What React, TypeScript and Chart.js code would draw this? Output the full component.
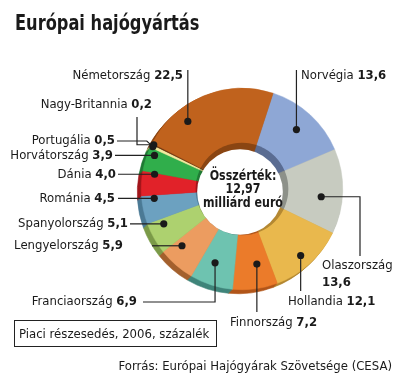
import React, { useEffect, useRef } from "react";
import { Chart, registerables } from "chart.js";
Chart.register(...registerables);

// ---- data ----
const categories = [
  "Norvégia", "Olaszország", "Hollandia", "Finnország", "Franciaország",
  "Lengyelország", "Spanyolország", "Románia", "Dánia", "Horvátország",
  "Portugália", "Nagy-Britannia", "Németország",
];
const shares = [13.6, 13.6, 12.1, 7.2, 6.9, 5.9, 5.1, 4.5, 4.0, 3.9, 0.5, 0.2, 22.5];
const valueLabels = ["13,6", "13,6", "12,1", "7,2", "6,9", "5,9", "5,1", "4,5", "4,0", "3,9", "0,5", "0,2", "22,5"];
const centerLines = ["Összérték:", "12,97", "milliárd euró"];
const titleText = "Európai hajógyártás";
const noteText = "Piaci részesedés, 2006, százalék";
const sourceText = "Forrás: Európai Hajógyárak Szövetsége (CESA)";

// ---- styles ----
const sliceColors = [
  "#8ea7d5", "#c7cbc0", "#e9b84d", "#eb7b2a", "#6ec3b0",
  "#ec9c60", "#add16f", "#6ca1c0", "#e12229", "#30ae4b",
  "#f2eba0", "#6b3210", "#c0621d",
];
const sideColors = [
  "#5a6c92", "#8d9189", "#b48832", "#b1561a", "#3f857a",
  "#a3602d", "#7b9a48", "#4b7a95", "#a1151b", "#1f7a34",
  "#b7ae6e", "#3a1a06", "#8a4512",
];
const FONT = "'DejaVu Sans Condensed', 'Liberation Sans Narrow', 'Arial Narrow', sans-serif";
const LABEL_PX = 13;

type Pt = [number, number];
type LabelSpec = {
  frac: number;
  rf: number;
  path: (d: { x: number; y: number }) => Pt[];
  text: (d: { x: number; y: number }) => { x: number; y: number; align: "left" | "right"; twoLine?: boolean };
};

const labelLayout: LabelSpec[] = [
  { frac: 0.5, rf: 0.8, path: (d) => [[d.x, d.y], [d.x, 70]], text: () => ({ x: 301, y: 76, align: "left" }) },
  { frac: 0.585, rf: 0.79, path: (d) => [[d.x, d.y], [360, d.y], [360, 256]], text: () => ({ x: 322, y: 266, align: "left", twoLine: true }) },
  { frac: 0.52, rf: 0.88, path: (d) => [[d.x, d.y], [d.x, 291]], text: () => ({ x: 288, y: 302, align: "left" }) },
  { frac: 0.36, rf: 0.76, path: (d) => [[d.x, d.y], [d.x, 312]], text: () => ({ x: 230, y: 323, align: "left" }) },
  { frac: 0.59, rf: 0.78, path: (d) => [[d.x, d.y], [d.x, 302], [143, 302]], text: () => ({ x: 137, y: 302, align: "right" }) },
  { frac: 0.77, rf: 0.82, path: (d) => [[152, d.y], [d.x, d.y]], text: (d) => ({ x: 123, y: d.y, align: "right" }) },
  { frac: 0.79, rf: 0.85, path: (d) => [[130, d.y], [d.x, d.y]], text: (d) => ({ x: 128, y: d.y, align: "right" }) },
  { frac: 0.87, rf: 0.876, path: (d) => [[118, d.y], [d.x, d.y]], text: (d) => ({ x: 115, y: d.y, align: "right" }) },
  { frac: 0.94, rf: 0.88, path: (d) => [[118, d.y], [d.x, d.y]], text: (d) => ({ x: 116, y: d.y, align: "right" }) },
  { frac: 0.75, rf: 0.93, path: (d) => [[115, d.y], [d.x, d.y]], text: (d) => ({ x: 113, y: d.y, align: "right" }) },
  { frac: 0.5, rf: 0.98, path: (d) => [[117, 141], [d.x - 6, 141], [d.x, d.y]], text: () => ({ x: 115, y: 141, align: "right" }) },
  { frac: 0.5, rf: 0.98, path: (d) => [[137, 117], [137, d.y], [d.x, d.y]], text: () => ({ x: 152, y: 105, align: "right" }) },
  { frac: 0.3, rf: 0.86, path: (d) => [[d.x, d.y], [d.x, 70]], text: () => ({ x: 183, y: 76, align: "right" }) },
];

function arcProps(el: any) {
  return el.getProps(["x", "y", "startAngle", "endAngle", "innerRadius", "outerRadius"], true);
}

const extrusionPlugin = {
  id: "extrusion",
  beforeDatasetsDraw(chart: any) {
    const meta = chart.getDatasetMeta(0);
    const ctx = chart.ctx;
    ctx.save();
    for (let s = 4; s >= 1; s--) {
      meta.data.forEach((el: any, i: number) => {
        const p = arcProps(el);
        ctx.beginPath();
        ctx.arc(p.x - s, p.y + s, p.outerRadius, p.startAngle, p.endAngle);
        ctx.arc(p.x - s, p.y + s, p.innerRadius, p.endAngle, p.startAngle, true);
        ctx.closePath();
        ctx.fillStyle = sideColors[i];
        ctx.strokeStyle = sideColors[i];
        ctx.lineWidth = 0.6;
        ctx.fill();
        ctx.stroke();
      });
    }
    ctx.restore();
  },
  afterDatasetsDraw(chart: any) {
    const meta = chart.getDatasetMeta(0);
    const ctx = chart.ctx;
    const p0 = arcProps(meta.data[0]);
    const cx = p0.x, cy = p0.y, rin = p0.innerRadius, R = p0.outerRadius;
    ctx.save();
    // inner wall
    ctx.beginPath();
    ctx.arc(cx, cy, rin + 0.5, 0, Math.PI * 2);
    ctx.clip();
    meta.data.forEach((el: any, i: number) => {
      const p = arcProps(el);
      ctx.beginPath();
      ctx.moveTo(cx, cy);
      ctx.arc(cx, cy, rin + 2, p.startAngle, p.endAngle);
      ctx.closePath();
      ctx.fillStyle = sideColors[i];
      ctx.strokeStyle = sideColors[i];
      ctx.lineWidth = 0.6;
      ctx.fill();
      ctx.stroke();
    });
    ctx.restore();
    ctx.save();
    ctx.beginPath();
    ctx.arc(cx - 2, cy + 3, rin - 3, 0, Math.PI * 2);
    ctx.fillStyle = "#ffffff";
    ctx.fill();
    // center text (condensed)
    ctx.fillStyle = "#1a1a1a";
    ctx.font = `bold 14px ${FONT}`;
    ctx.textAlign = "center";
    ctx.textBaseline = "middle";
    ctx.translate(cx + 1, cy);
    ctx.scale(0.88, 1);
    centerLines.forEach((t, k) => ctx.fillText(t, 0, -13 + k * 13.5));
    ctx.restore();

    // labels, leader lines, dots
    ctx.save();
    ctx.strokeStyle = "#222";
    ctx.fillStyle = "#1a1a1a";
    ctx.lineWidth = 1.2;
    meta.data.forEach((el: any, i: number) => {
      const spec = labelLayout[i];
      const p = arcProps(el);
      const a = p.startAngle + spec.frac * (p.endAngle - p.startAngle);
      const d = { x: cx + spec.rf * R * Math.cos(a), y: cy + spec.rf * R * Math.sin(a) };
      const pts = spec.path(d);
      ctx.beginPath();
      pts.forEach((q, k) => (k === 0 ? ctx.moveTo(q[0], q[1]) : ctx.lineTo(q[0], q[1])));
      ctx.stroke();
      ctx.beginPath();
      ctx.arc(d.x, d.y, 3.6, 0, Math.PI * 2);
      ctx.fill();

      const t = spec.text(d);
      const name = categories[i];
      const val = valueLabels[i];
      const fN = `${LABEL_PX}px ${FONT}`;
      const fB = `bold ${LABEL_PX}px ${FONT}`;
      ctx.textBaseline = "middle";
      ctx.textAlign = "left";
      if (t.twoLine) {
        ctx.font = fN;
        ctx.fillText(name, t.x, t.y);
        ctx.font = fB;
        ctx.fillText(val, t.x, t.y + 17);
        return;
      }
      ctx.font = fN;
      const wName = ctx.measureText(name + " ").width;
      ctx.font = fB;
      const wVal = ctx.measureText(val).width;
      const x0 = t.align === "left" ? t.x : t.x - wName - wVal;
      ctx.font = fN;
      ctx.fillText(name + " ", x0, t.y);
      ctx.font = fB;
      ctx.fillText(val, x0 + wName, t.y);
    });
    ctx.restore();
  },
};

export default function App() {
  const ref = useRef<HTMLCanvasElement>(null);
  useEffect(() => {
    const canvas = ref.current;
    if (!canvas) return;
    const chart = new Chart(canvas, {
      type: "doughnut",
      data: {
        labels: categories,
        datasets: [
          {
            data: shares,
            backgroundColor: sliceColors,
            borderColor: sliceColors,
            borderWidth: 0.5,
            hoverOffset: 0,
          },
        ],
      },
      options: {
        responsive: false,
        animation: false,
        rotation: 18,
        cutout: "45.5%",
        layout: { padding: { left: 141, right: 67, top: 88, bottom: 92 } },
        plugins: {
          legend: { display: false },
          tooltip: { enabled: false },
          title: { display: false },
        },
      },
      plugins: [extrusionPlugin],
    });
    return () => chart.destroy();
  }, []);

  return (
    <div style={{ position: "absolute", left: 0, top: 0, width: 410, height: 382, background: "#fff", overflow: "hidden" }}>
      <canvas ref={ref} width={410} height={382} style={{ position: "absolute", left: 0, top: 0, width: 410, height: 382 }} />
      <div
        style={{
          position: "absolute", left: 15, top: 10, font: `bold 22px ${FONT}`, color: "#1a1a1a",
          whiteSpace: "nowrap", transform: "scaleX(0.82)", transformOrigin: "left top",
        }}
      >
        {titleText}
      </div>
      <div
        style={{
          position: "absolute", left: 14, top: 320, width: 197, height: 25,
          border: "1px solid #222", font: `13px ${FONT}`, color: "#1a1a1a",
          lineHeight: "25px", paddingLeft: 4, boxSizing: "content-box", whiteSpace: "nowrap",
        }}
      >
        {noteText}
      </div>
      <div style={{ position: "absolute", right: 18, top: 358, font: `13px ${FONT}`, color: "#1a1a1a", whiteSpace: "nowrap" }}>
        {sourceText}
      </div>
    </div>
  );
}
